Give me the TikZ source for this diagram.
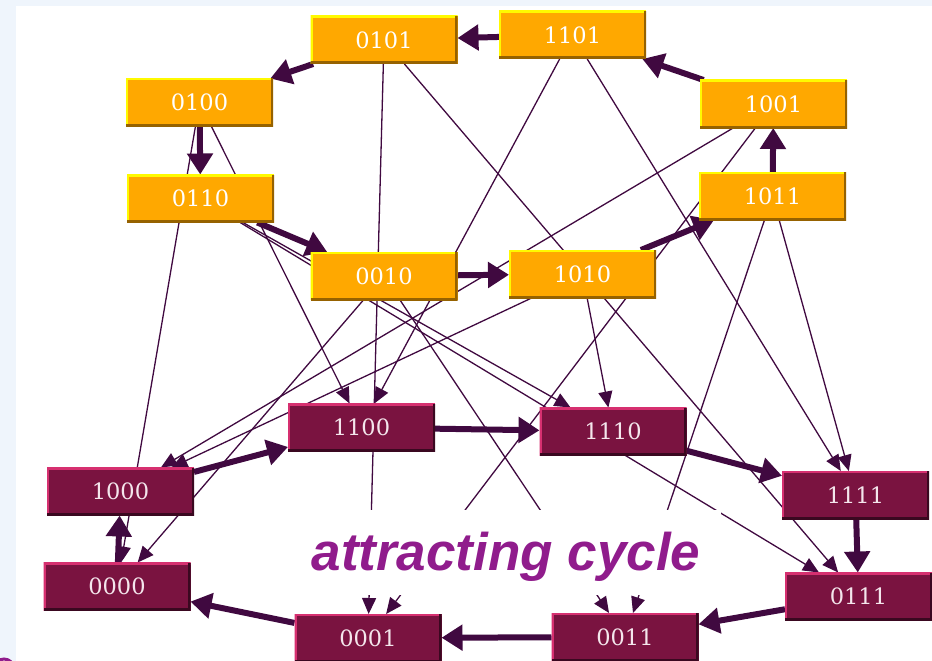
\documentclass[tikz,border=0pt]{standalone}
\usepackage{fontspec}
\setmainfont{DejaVu Serif}
\newfontfamily\captionfont{Liberation Sans}
\usetikzlibrary{arrows.meta}

\definecolor{pagebg}{RGB}{239,245,252}
\definecolor{orfill}{RGB}{255,168,0}
\definecolor{orhigh}{RGB}{255,250,0}
\definecolor{orshade}{RGB}{150,98,0}
\definecolor{mrfill}{RGB}{122,19,64}
\definecolor{mrhigh}{RGB}{214,48,112}
\definecolor{mrshade}{RGB}{58,8,32}
\definecolor{edgecol}{RGB}{64,9,64}
\definecolor{cyclecol}{RGB}{144,28,140}

\pgfdeclarelayer{bg}
\pgfdeclarelayer{edges}
\pgfsetlayers{bg,edges,main}

\begin{document}
\begin{tikzpicture}[x=1pt,y=-1pt,
  state/.style={rectangle, minimum width=147pt, minimum height=48pt,
    inner sep=0pt, outer sep=0pt, font=\fontsize{22.5}{22.5}\selectfont},
  bevel/.style 2 args={path picture={
    \draw[line width=4pt, #1]
      (path picture bounding box.south west) --
      (path picture bounding box.north west) --
      (path picture bounding box.north east);
    \draw[line width=5pt, #2]
      (path picture bounding box.north east) --
      (path picture bounding box.south east) --
      (path picture bounding box.south west);}},
  transient/.style={state, fill=orfill, text=white, bevel={orhigh}{orshade}},
  cyclic/.style={state, fill=mrfill, text={rgb,255:red,244;green,230;blue,236}, bevel={mrhigh}{mrshade}},
  thinedge/.style={draw=edgecol, line width=1.3pt, -{Triangle[length=16pt,width=14pt]}},
  thickedge/.style={draw=edgecol, line width=6pt, -{Triangle[length=21pt,width=25pt]}}]

% page and canvas
\useasboundingbox (0,0) rectangle (932,661);
\begin{pgfonlayer}{bg}
  \fill[pagebg] (0,0) rectangle (932,661);
  \fill[white] (16,6) rectangle (932,661);
  \draw[cyclecol, line width=3pt] (4,669) circle (10);
\end{pgfonlayer}

% transient states
\node[transient] (n0101) at (384,40)    {0101};
\node[transient] (n1101) at (572.5,35)  {1101};
\node[transient] (n0100) at (199.5,102.5) {0100};
\node[transient] (n1001) at (773.5,104) {1001};
\node[transient] (n0110) at (200.5,198.5) {0110};
\node[transient] (n1011) at (772.5,196) {1011};
\node[transient] (n0010) at (384,276)   {0010};
\node[transient] (n1010) at (582.5,274) {1010};

% states of the attracting cycle
\node[cyclic] (n1100) at (361.5,427.5) {1100};
\node[cyclic] (n1110) at (613,431.5)   {1110};
\node[cyclic] (n1000) at (120.5,491.5) {1000};
\node[cyclic] (n1111) at (855.5,495)   {1111};
\node[cyclic] (n0000) at (117,586.5)   {0000};
\node[cyclic] (n0111) at (858.5,596.5) {0111};
\node[cyclic] (n0001) at (368,638)     {0001};
\node[cyclic] (n0011) at (625,637)     {0011};

\begin{pgfonlayer}{edges}
  % single transitions into the cycle
  \draw[thinedge] (n0101) -- (n0001);
  \draw[thinedge] (n0101) -- (n0111);
  \draw[thinedge] (n1101) -- (n1100);
  \draw[thinedge] (n1101) -- (n1111);
  \draw[thinedge] (n0100) -- (n0000);
  \draw[thinedge] (n0100) -- (n1100);
  \draw[thinedge] (n1001) -- (n0001);
  \draw[thinedge] (n1001) -- (n1000);
  \draw[thinedge] (n0110) -- (n1110);
  \draw[thinedge] (n0110) -- (n0111);
  \draw[thinedge] (n1011) -- (n1111);
  \draw[thinedge] (n1011) -- (n0011);
  \draw[thinedge] (n0010) -- (n0000);
  \draw[thinedge] (n0010) -- (n0011);
  \draw[thinedge] (n1010) -- (n1110);
  \draw[thinedge] (n1010) -- (n1000);

  % outer transient cycle
  \draw[thickedge] (n1101) -- (n0101);
  \draw[thickedge] (n0101) -- (n0100);
  \draw[thickedge] (n0100) -- (n0110);
  \draw[thickedge] (n0110) -- (n0010);
  \draw[thickedge] (n0010) -- (n1010);
  \draw[thickedge] (n1010) -- (n1011);
  \draw[thickedge] (n1011) -- (n1001);
  \draw[thickedge] (n1001) -- (n1101);

  % attracting cycle
  \draw[thickedge] (n1000) -- (n1100);
  \draw[thickedge] (n1100) -- (n1110);
  \draw[thickedge] (n1110) -- (n1111);
  \draw[thickedge] (n1111) -- (n0111);
  \draw[thickedge] (n0111) -- (n0011);
  \draw[thickedge] (n0011) -- (n0001);
  \draw[thickedge] (n0001) -- (n0000);
  \draw[thickedge] (n0000) -- (n1000);

  % caption panel
  \fill[white] (290,510) rectangle (721,595);
  \node[anchor=base, inner sep=0pt, text=cyclecol,
        font=\captionfont\bfseries\itshape\fontsize{53}{53}\selectfont]
    (caption) at (506,570) {attracting cycle};
\end{pgfonlayer}
\end{tikzpicture}
\end{document}
